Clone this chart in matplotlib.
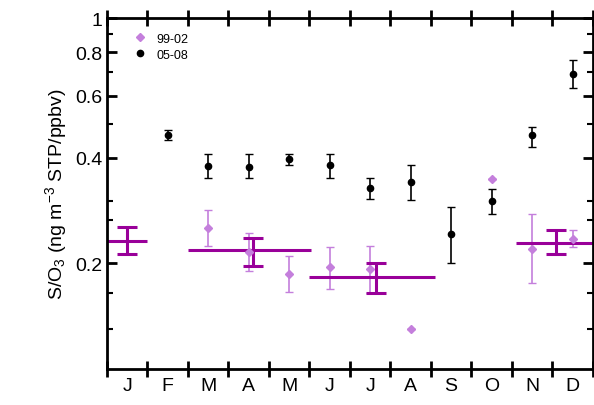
import matplotlib
matplotlib.use("Agg")
import matplotlib.pyplot as plt
from matplotlib.ticker import FixedLocator, NullFormatter
from matplotlib.lines import Line2D

plt.rcParams['font.family'] = ['Liberation Sans', 'DejaVu Sans']
plt.rcParams['mathtext.fontset'] = 'custom'
plt.rcParams['mathtext.rm'] = 'Liberation Sans'
plt.rcParams['mathtext.it'] = 'Liberation Sans:italic'

months = ["J","F","M","A","M","J","J","A","S","O","N","D"]
# 05-08 (black)
b_x = [1.5,2.5,3.5,4.5,5.5,6.5,7.5,8.5,9.5,10.5,11.5]
b_v = [0.463,0.378,0.376,0.396,0.381,0.327,0.341,0.242,0.300,0.463,0.695]
b_hi = [0.48,0.41,0.41,0.41,0.41,0.35,0.38,0.29,0.325,0.49,0.76]
b_lo = [0.45,0.35,0.35,0.38,0.35,0.305,0.302,0.20,0.276,0.43,0.63]
# 99-02 (light purple)
p_x = [2.5,3.5,4.5,5.5,6.5,7.5,9.5,10.5,11.5]
p_v = [0.252,0.215,0.187,0.195,0.192,0.130,0.347,0.220,0.234]
p_hi = [0.283,0.244,0.21,0.223,0.224,0.130,0.347,0.276,0.249]
p_lo = [0.224,0.19,0.166,0.169,0.165,0.130,0.347,0.176,0.222]
# seasonal means (dark purple)
s_x0 = [0.0,2.0,5.0,10.1]
s_x1 = [1.0,5.05,8.1,12.0]
s_xe = [0.5,3.6,6.65,11.1]
s_v = [0.232,0.218,0.183,0.229]
s_hi = [0.254,0.236,0.20,0.248]
s_lo = [0.212,0.197,0.165,0.212]

fig = plt.figure(figsize=(5.94,4.06), dpi=100)
ax = fig.add_axes([0.18,0.089,0.818,0.864])
ax.set_yscale('log')
ax.set_ylim(0.1,1.0)
ax.set_xlim(0,12)

lp = '#c47fdc'; dp = '#990099'
ax.errorbar(p_x, p_v, yerr=[[v-l for v,l in zip(p_v,p_lo)],[h-v for v,h in zip(p_v,p_hi)]],
            fmt='D', ms=4, color=lp, ecolor=lp, elinewidth=1.2, capsize=3)
ax.errorbar(b_x, b_v, yerr=[[v-l for v,l in zip(b_v,b_lo)],[h-v for v,h in zip(b_v,b_hi)]],
            fmt='o', ms=4.5, color='black', elinewidth=1.2, capsize=3)
for x0,x1,xe,v,h,l in zip(s_x0,s_x1,s_xe,s_v,s_hi,s_lo):
    ax.plot([x0,x1],[v,v],color=dp,lw=2.2,solid_capstyle='butt',clip_on=False)
    ax.errorbar([xe],[v],yerr=[[v-l],[h-v]],fmt='none',ecolor=dp,elinewidth=2.2,capsize=7,capthick=2.2)

ax.yaxis.set_major_locator(FixedLocator([0.2,0.4,0.6,0.8,1.0]))
ax.yaxis.set_major_formatter(matplotlib.ticker.FuncFormatter(lambda v,p: f"{v:g}"))
ax.yaxis.set_minor_locator(FixedLocator([0.13,0.165,0.265,0.3,0.5,0.7,0.9]))
ax.yaxis.set_minor_formatter(NullFormatter())
ax.set_xticks(range(13))
ax.set_xticklabels([])
ax.set_xticks([i+0.5 for i in range(12)], minor=True)
ax.set_xticklabels(months, minor=True, fontsize=14)
ax.tick_params(axis='x', which='minor', length=0, pad=6)
ax.tick_params(which='major', direction='in', length=7, width=2, top=True, right=True, labelsize=14)
ax.tick_params(axis='y', which='minor', direction='in', length=4, width=1.5, right=True)
ax.tick_params(axis='x', which='major', direction='inout', length=12)
for s in ax.spines.values():
    s.set_linewidth(2)
ax.set_ylabel('S/O$_3$ (ng m$^{-3}$ STP/ppbv)', fontsize=14)
handles = [Line2D([],[],ls='none',marker='D',ms=4,color=lp),
           Line2D([],[],ls='none',marker='o',ms=4.5,color='black')]
ax.legend(handles, ['99-02','05-08'], loc='upper left', frameon=False, fontsize=9,
          handletextpad=0.3, bbox_to_anchor=(0.02,0.99), labelspacing=0.3)
fig.savefig('out.png', dpi=100)
